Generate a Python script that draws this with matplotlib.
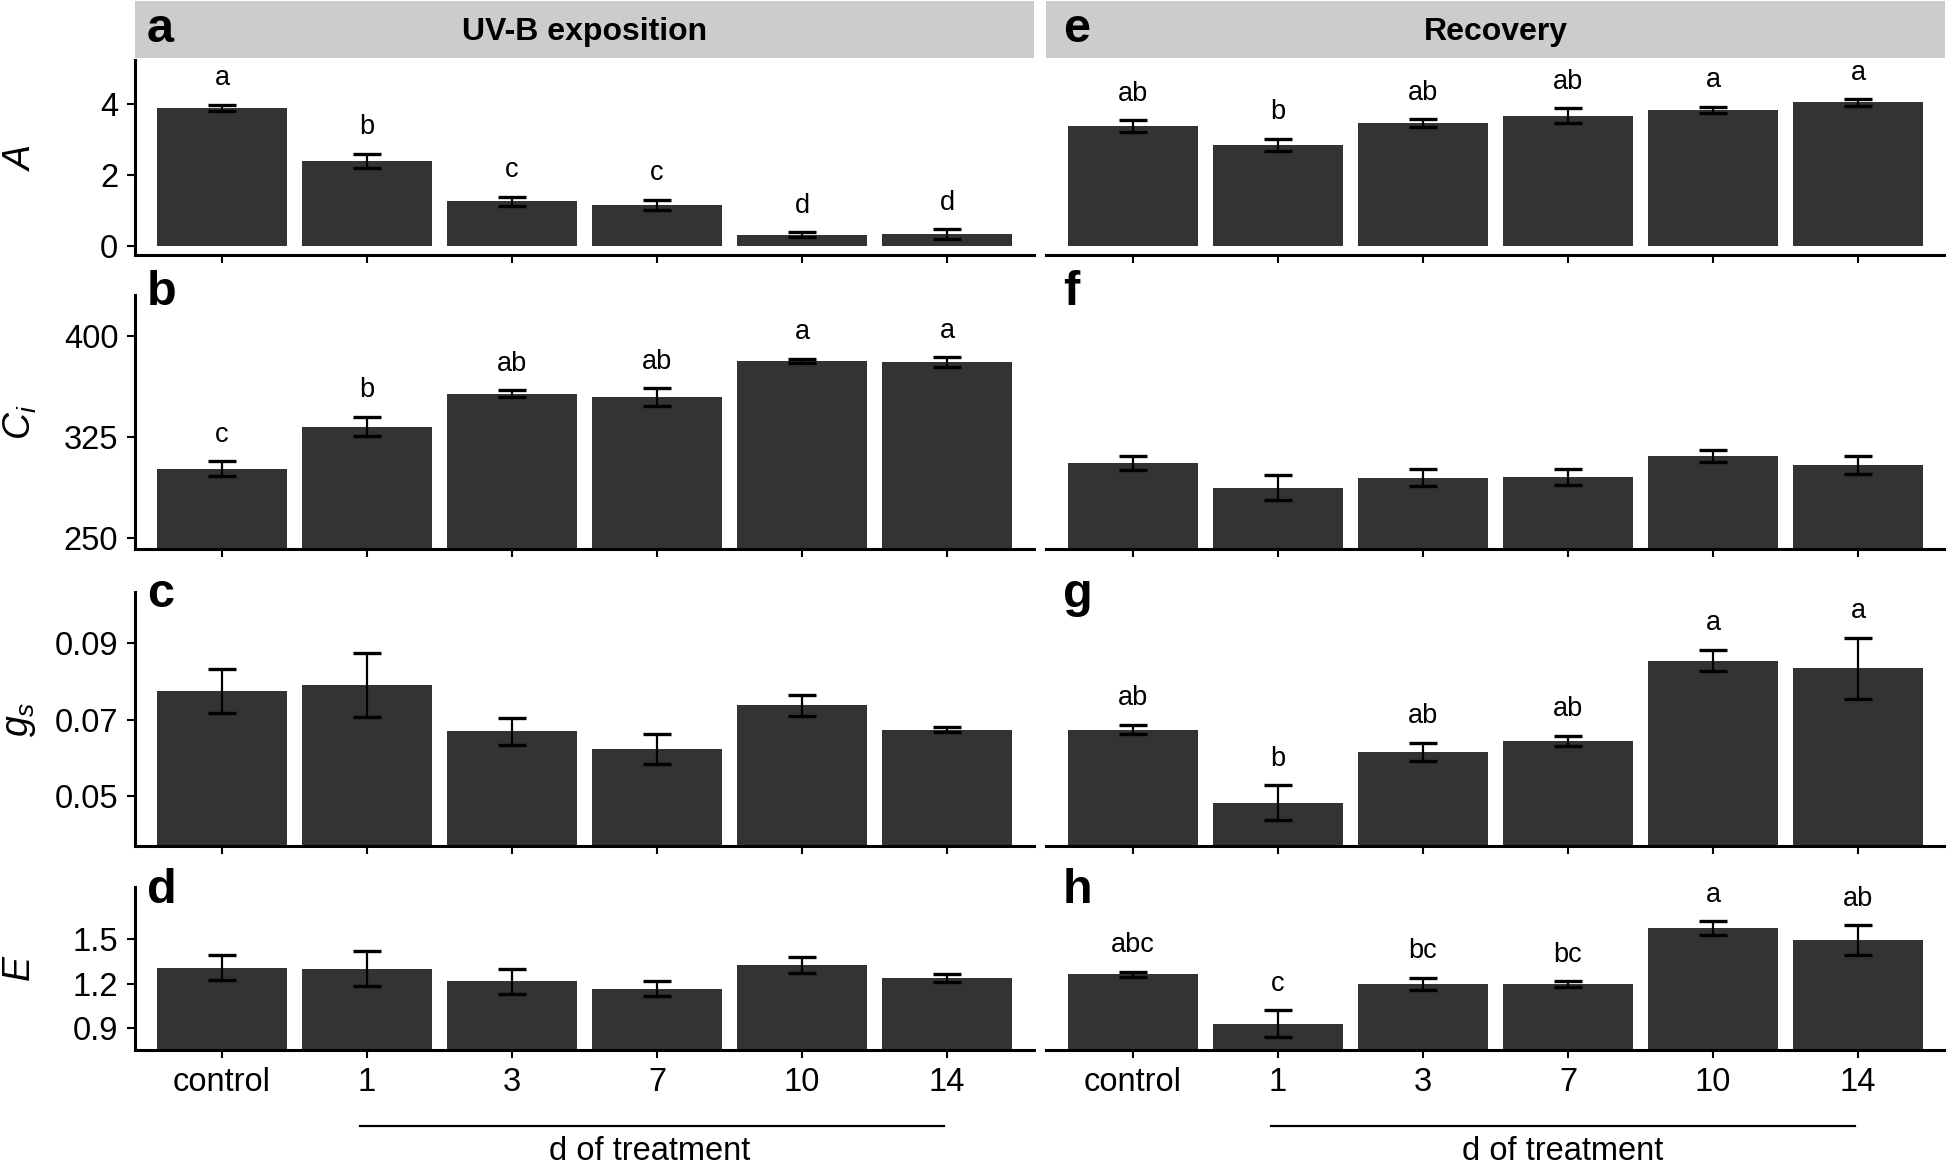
import matplotlib
matplotlib.use("Agg")
import matplotlib.pyplot as plt
import matplotlib.transforms as mtransforms
import numpy as np

plt.rcParams['font.family'] = ['Liberation Sans', 'DejaVu Sans']
plt.rcParams['mathtext.fontset'] = 'custom'
plt.rcParams['mathtext.it'] = 'Liberation Sans:italic'
plt.rcParams['mathtext.rm'] = 'Liberation Sans'

# x categories
days = ['control', '1', '3', '7', '10', '14']

# UV-B exposition (panels a-d)
uv_A = [3.90, 2.40, 1.26, 1.15, 0.31, 0.33]
uv_A_se = [0.085, 0.20, 0.13, 0.15, 0.075, 0.145]
uv_A_let = ['a', 'b', 'c', 'c', 'd', 'd']

uv_Ci = [301.5, 332.6, 357.0, 354.4, 381.2, 380.3]
uv_Ci_se = [5.3, 7.2, 2.6, 6.5, 1.5, 3.7]
uv_Ci_let = ['c', 'b', 'ab', 'ab', 'a', 'a']

uv_gs = [0.0775, 0.0790, 0.0669, 0.0623, 0.0737, 0.0674]
uv_gs_se = [0.0057, 0.0083, 0.0036, 0.0039, 0.0027, 0.0007]
uv_gs_let = None

uv_E = [1.309, 1.302, 1.217, 1.167, 1.325, 1.237]
uv_E_se = [0.082, 0.118, 0.085, 0.052, 0.056, 0.026]
uv_E_let = None

# Recovery (panels e-h)
rec_A = [3.39, 2.85, 3.47, 3.67, 3.84, 4.05]
rec_A_se = [0.165, 0.18, 0.11, 0.21, 0.085, 0.09]
rec_A_let = ['ab', 'b', 'ab', 'ab', 'a', 'a']

rec_Ci = [305.7, 287.5, 294.6, 295.6, 311.1, 304.0]
rec_Ci_se = [5.2, 9.0, 6.3, 5.9, 4.4, 6.5]
rec_Ci_let = None

rec_gs = [0.0674, 0.0483, 0.0615, 0.0644, 0.0854, 0.0834]
rec_gs_se = [0.0012, 0.0046, 0.0024, 0.0014, 0.0028, 0.0080]
rec_gs_let = ['ab', 'b', 'ab', 'ab', 'a', 'a']

rec_E = [1.264, 0.931, 1.201, 1.199, 1.576, 1.493]
rec_E_se = [0.016, 0.089, 0.040, 0.019, 0.045, 0.099]
rec_E_let = ['abc', 'c', 'bc', 'bc', 'a', 'ab']

row_labels = ['$A$', '$C_i$', '$g_s$', '$E$']
row_ylim = [(-0.26, 5.25), (242, 430), (0.037, 0.1033), (0.754, 1.851)]
row_ticks = [[0, 2, 4], [250, 325, 400], [0.05, 0.07, 0.09], [0.9, 1.2, 1.5]]
row_ticklabels = [['0', '2', '4'], ['250', '325', '400'],
                  ['0.05', '0.07', '0.09'], ['0.9', '1.2', '1.5']]

columns = [
    ('UV-B exposition', ['a', 'b', 'c', 'd'],
     [(uv_A, uv_A_se, uv_A_let), (uv_Ci, uv_Ci_se, uv_Ci_let),
      (uv_gs, uv_gs_se, uv_gs_let), (uv_E, uv_E_se, uv_E_let)]),
    ('Recovery', ['e', 'f', 'g', 'h'],
     [(rec_A, rec_A_se, rec_A_let), (rec_Ci, rec_Ci_se, rec_Ci_let),
      (rec_gs, rec_gs_se, rec_gs_let), (rec_E, rec_E_se, rec_E_let)]),
]

# layout in pixels of the 1946 x 1165 canvas
W, H = 1946, 1165
col_left = [135, 1046]
col_width = 899
row_top = [60, 295, 592, 887]
row_bottom = [255, 549, 846, 1050]
letter_x = [147, 1063]
letter_base = [42, 305, 607, 903]

fig = plt.figure(figsize=(W / 100, H / 100), dpi=100)
x = np.arange(1, len(days) + 1)

for c, (strip_title, letters, rows) in enumerate(columns):
    # strip on top
    sax = fig.add_axes([col_left[c] / W, (H - 58) / H, col_width / W, 57 / H])
    sax.set_facecolor('#cccccc')
    sax.set_xticks([])
    sax.set_yticks([])
    for s in sax.spines.values():
        s.set_visible(False)
    sax.text(0.5, 0.46, strip_title, ha='center', va='center',
             fontsize=23, fontweight='bold', transform=sax.transAxes)

    for r, (vals, se, lets) in enumerate(rows):
        ax = fig.add_axes([col_left[c] / W, (H - row_bottom[r]) / H,
                           col_width / W, (row_bottom[r] - row_top[r]) / H])
        ax.bar(x, vals, width=0.9, color='#333333', zorder=2)
        ax.errorbar(x, vals, yerr=se, fmt='none', ecolor='black',
                    elinewidth=1.6, capsize=10, capthick=2.4, zorder=3)
        if lets is not None:
            for xi, v, e, l in zip(x, vals, se, lets):
                ax.annotate(l, (xi, v + e), xytext=(0, 14),
                            textcoords='offset points', ha='center',
                            va='baseline', fontsize=19.5)
        ax.set_xlim(0.4, 6.6)
        ax.set_ylim(*row_ylim[r])
        ax.set_xticks(x)
        ax.set_facecolor('none')
        for s in ['top', 'right']:
            ax.spines[s].set_visible(False)
        ax.spines['bottom'].set_linewidth(2.2)
        ax.spines['left'].set_linewidth(2.2)
        ax.tick_params(axis='both', length=6, width=1.5, labelsize=23.5,
                       pad=6, colors='black')
        if r == 3:
            ax.set_xticklabels(days)
            # bracket line under the day ticks
            trans = mtransforms.blended_transform_factory(ax.transData, ax.transAxes)
            ax.plot([1.95, 5.98], [-0.466, -0.466], color='black', lw=1.6,
                    transform=trans, clip_on=False)
        else:
            ax.set_xticklabels([])
        if c == 0:
            ax.set_yticks(row_ticks[r])
            ax.set_yticklabels(row_ticklabels[r])
        else:
            ax.spines['left'].set_visible(False)
            ax.set_yticks(row_ticks[r])
            ax.tick_params(axis='y', left=False, labelleft=False)

        fig.text(letter_x[c] / W, (H - letter_base[r]) / H, letters[r],
                 fontsize=35, fontweight='bold', ha='left', va='baseline')

# y-axis titles
for r in range(4):
    fig.text(20 / W, (H - (row_top[r] + row_bottom[r]) / 2) / H, row_labels[r],
             rotation=90, ha='center', va='center', fontsize=27)

# shared x-axis titles
for xc in [650, 1563]:
    fig.text(xc / W, (H - 1160) / H, 'd of treatment', ha='center',
             va='baseline', fontsize=23.5)

fig.savefig('out.png', dpi=100)
